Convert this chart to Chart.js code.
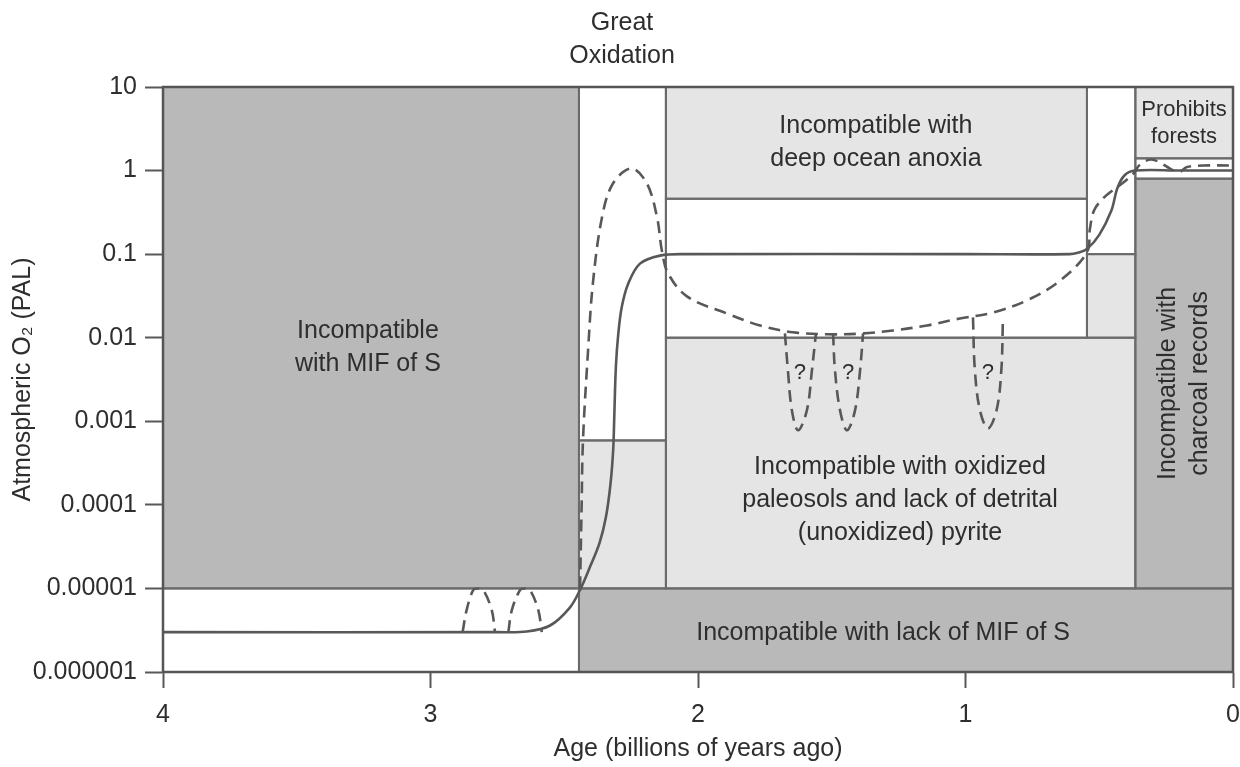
<!DOCTYPE html>
<html>
<head>
<meta charset="utf-8">
<title>Atmospheric oxygen through Earth history</title>
<script src="https://cdn.jsdelivr.net/npm/chart.js@4.4.1/dist/chart.umd.min.js"></script>
<style>
  html, body { margin: 0; padding: 0; background: #fff; }
  canvas { display: block; }
</style>
</head>
<body>
<canvas id="oxygenChart" width="1240" height="767"></canvas>
<script>
// axis ticks
const xTickValues = [4, 3, 2, 1, 0];
const yTickValues = [10, 1, 0.1, 0.01, 0.001, 0.0001, 0.00001, 0.000001];
const yTickLabels = ["10", "1", "0.1", "0.01", "0.001", "0.0001", "0.00001", "0.000001"];

// constraint boxes (age in Ga, O2 in PAL)
const zoneKind    = ["strong", "strong", "weak", "weak", "weak", "weak", "strong", "weak", "open", "open", "open", "open", "open"];
const zoneAgeFrom = [4,     2.445, 2.445,  2.12,  2.12,  0.546, 0.365, 0.365, 2.445,  2.12, 0.546, 4,     0.365];
const zoneAgeTo   = [2.445, 0,     2.12,   0.365, 0.546, 0.365, 0,     0,     2.12,   0.546, 0.365, 2.445, 0];
const zoneLow     = [1e-5,  1e-6,  1e-5,   1e-5,  0.46,  0.01,  1e-5,  1.4,   5.9e-4, 0.01, 0.1,   1e-6,  0.8];
const zoneHigh    = [10,    1e-5,  5.9e-4, 0.01,  10,    0.1,   0.8,   10,    10,     0.46, 10,    1e-5,  1.4];

// best-estimate O2 curve (solid)
const solidAge = [4, 2.75, 2.64, 2.553, 2.479, 2.441, 2.404, 2.368, 2.344, 2.327, 2.317, 2.313, 2.307, 2.298, 2.285, 2.261, 2.217, 2.142, 2.05, 1.0, 0.61, 0.58, 0.546, 0.5, 0.455, 0.432, 0.405, 0.365, 0.2, 0];
const solidO2  = [3e-6, 3e-6, 3.05e-6, 3.6e-6, 5.9e-6, 9.6e-6, 1.8e-5, 3.5e-5, 7.2e-5, 1.8e-4, 4.6e-4, 1.13e-3, 4.5e-3, 0.0111, 0.0233, 0.0442, 0.077, 0.096, 0.1, 0.1, 0.1, 0.104, 0.115, 0.17, 0.33, 0.62, 0.88, 1.0, 1.0, 1.0];

// alternative O2 history (dashed)
const dashedAge = [2.441, 2.435, 2.43, 2.411, 2.393, 2.359, 2.318, 2.249, 2.191, 2.153, 2.135, 2.112, 2.04, 1.892, 1.768, 1.645, 1.518, 1.394, 1.271, 1.144, 1.021, 0.897, 0.77, 0.647, 0.546, 0.535, 0.52, 0.49, 0.45, 0.41, 0.375, 0.345, 0.299, 0.206, 0.172, 0.112, 0];
const dashedO2  = [1e-5, 1e-4, 5.9e-4, 7.0e-3, 0.0446, 0.275, 0.70, 1.06, 0.70, 0.275, 0.11, 0.059, 0.031, 0.0195, 0.014, 0.0116, 0.011, 0.0112, 0.0122, 0.014, 0.017, 0.020, 0.028, 0.048, 0.105, 0.2, 0.33, 0.45, 0.58, 0.72, 0.9, 1.2, 1.35, 0.96, 1.1, 1.15, 1.15];

// Archean whiffs
const whiff1Age = [2.880, 2.865, 2.840, 2.821, 2.803, 2.771, 2.759];
const whiff2Age = [2.709, 2.696, 2.665, 2.647, 2.628, 2.597, 2.584];
const whiffO2   = [3e-6, 5.5e-6, 9.6e-6, 1.0e-5, 9.6e-6, 5.5e-6, 3e-6];

// Proterozoic "?" dips
const dip1Age = [1.675, 1.664, 1.649, 1.626, 1.593, 1.574, 1.559];
const dip2Age = [1.495, 1.488, 1.469, 1.443, 1.413, 1.394, 1.383];
const dip3Age = [0.972, 0.965, 0.946, 0.916, 0.884, 0.866, 0.860];
const dipO2   = [0.0113, 0.0041, 0.00135, 0.00078, 0.00135, 0.0041, 0.0113];
const dip3O2  = [0.0175, 0.0041, 0.00135, 0.00082, 0.00135, 0.0041, 0.0175];

// text inside the plot
const zoneLabelText = [
  ["Incompatible", "with MIF of S"],
  ["Incompatible with", "deep ocean anoxia"],
  ["Incompatible with oxidized", "paleosols and lack of detrital", "(unoxidized) pyrite"],
  ["Incompatible with lack of MIF of S"],
  ["?"], ["?"], ["?"]
];
const zoneLabelAge = [3.234, 1.335, 1.245, 1.308, 1.619, 1.439, 0.916];
const zoneLabelO2  = [7.7e-3, 2.17, 1.13e-4, 2.9e-6, 3.74e-3, 3.74e-3, 3.74e-3];
const forestLabel = { text: ["Prohibits", "forests"], age: 0.183, o2: 3.66 };
const charcoalLabel = { text: ["Incompatible with", "charcoal records"], age: 0.183, o2: 2.84e-3 };
const eventLabel = { text: ["Great", "Oxidation"], age: 2.284 };

const ZONE_FILL = { strong: "#b9b9b9", weak: "#e5e5e5", open: "#ffffff" };
const LINE_COLOR = "#585858";
const TEXT_COLOR = "#2e2e2e";
const FONT = "'Liberation Sans', Arial, sans-serif";

Chart.defaults.font.family = FONT;
Chart.defaults.font.size = 25;
Chart.defaults.color = TEXT_COLOR;

function toPoints(ages, values) {
  return ages.map((age, i) => ({ x: age, y: values[i] }));
}

function curve(ages, values, dashed) {
  return {
    data: toPoints(ages, values),
    showLine: true,
    borderColor: LINE_COLOR,
    borderWidth: 2.6,
    borderDash: dashed ? [12, 7] : [],
    pointRadius: 0,
    tension: 0.35,
    fill: false
  };
}

function drawLines(ctx, lines, cx, cy, lineHeight) {
  const startY = cy - (lines.length - 1) * lineHeight / 2;
  lines.forEach((line, i) => ctx.fillText(line, cx, startY + i * lineHeight));
}

const zonesPlugin = {
  id: "zones",
  beforeDatasetsDraw(chart) {
    const { ctx, chartArea, scales: { x, y } } = chart;
    ctx.save();
    const boxes = zoneKind.map((kind, i) => {
      const left = x.getPixelForValue(zoneAgeFrom[i]);
      const right = x.getPixelForValue(zoneAgeTo[i]);
      const top = y.getPixelForValue(zoneHigh[i]);
      const bottom = y.getPixelForValue(zoneLow[i]);
      return { kind, left, top, w: right - left, h: bottom - top };
    });
    boxes.forEach(b => {
      ctx.fillStyle = ZONE_FILL[b.kind];
      ctx.fillRect(b.left, b.top, b.w, b.h);
    });
    ctx.strokeStyle = "#6a6a6a";
    ctx.lineWidth = 2;
    boxes.forEach(b => ctx.strokeRect(b.left, b.top, b.w, b.h));
    ctx.strokeStyle = "#555";
    ctx.lineWidth = 2.5;
    ctx.strokeRect(chartArea.left, chartArea.top, chartArea.right - chartArea.left, chartArea.bottom - chartArea.top);
    ctx.restore();
  },
  afterDatasetsDraw(chart) {
    const { ctx, chartArea, scales: { x, y } } = chart;
    ctx.save();
    ctx.fillStyle = TEXT_COLOR;
    ctx.textAlign = "center";
    ctx.textBaseline = "middle";
    zoneLabelText.forEach((lines, i) => {
      ctx.font = (lines[0] === "?" ? "22px " : "25px ") + FONT;
      drawLines(ctx, lines, x.getPixelForValue(zoneLabelAge[i]), y.getPixelForValue(zoneLabelO2[i]), 33);
    });

    ctx.font = "22px " + FONT;
    drawLines(ctx, forestLabel.text, x.getPixelForValue(forestLabel.age), y.getPixelForValue(forestLabel.o2), 27);

    ctx.font = "25px " + FONT;
    ctx.save();
    ctx.translate(x.getPixelForValue(charcoalLabel.age), y.getPixelForValue(charcoalLabel.o2));
    ctx.rotate(-Math.PI / 2);
    drawLines(ctx, charcoalLabel.text, 0, 0, 32);
    ctx.restore();

    drawLines(ctx, eventLabel.text, x.getPixelForValue(eventLabel.age), chartArea.top - 47, 33);
    ctx.restore();
  }
};

new Chart(document.getElementById("oxygenChart"), {
  type: "scatter",
  data: {
    datasets: [
      curve(solidAge, solidO2, false),
      curve(dashedAge, dashedO2, true),
      curve(whiff1Age, whiffO2, true),
      curve(whiff2Age, whiffO2, true),
      curve(dip1Age, dipO2, true),
      curve(dip2Age, dipO2, true),
      curve(dip3Age, dip3O2, true)
    ]
  },
  options: {
    responsive: false,
    devicePixelRatio: 1,
    animation: false,
    layout: { padding: { top: 87, right: 7, left: 0, bottom: 0 } },
    plugins: {
      legend: { display: false },
      tooltip: { enabled: false }
    },
    scales: {
      x: {
        type: "linear",
        min: 0,
        max: 4,
        reverse: true,
        afterBuildTicks: scale => { scale.ticks = xTickValues.map(v => ({ value: v })); },
        afterFit: scale => {
          scale.height = 95;
          scale.paddingLeft = 0;
          scale.paddingRight = 0;
        },
        ticks: { padding: 12, color: TEXT_COLOR },
        grid: { drawOnChartArea: false, tickLength: 16, tickColor: LINE_COLOR, tickWidth: 2 },
        border: { display: true, color: LINE_COLOR, width: 2 },
        title: { display: true, text: "Age (billions of years ago)", padding: { top: 0, bottom: 3 }, color: TEXT_COLOR }
      },
      y: {
        type: "logarithmic",
        min: 1e-6,
        max: 10,
        afterBuildTicks: scale => { scale.ticks = yTickValues.map(v => ({ value: v })); },
        afterFit: scale => {
          scale.width = 163;
          scale.paddingTop = 0;
          scale.paddingBottom = 0;
        },
        ticks: {
          padding: 8,
          color: TEXT_COLOR,
          callback: value => {
            const i = yTickValues.indexOf(value);
            return i < 0 ? "" : yTickLabels[i];
          }
        },
        grid: { drawOnChartArea: false, tickLength: 18, tickColor: LINE_COLOR, tickWidth: 2 },
        border: { display: true, color: LINE_COLOR, width: 2 },
        title: { display: true, text: "Atmospheric O\u2082 (PAL)", padding: { top: 8, bottom: 0 }, color: TEXT_COLOR }
      }
    }
  },
  plugins: [zonesPlugin]
});
</script>
</body>
</html>
